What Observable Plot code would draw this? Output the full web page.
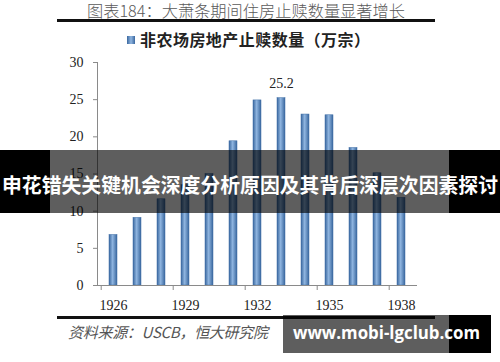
<!DOCTYPE html>
<html>
<head>
<meta charset="utf-8">
<script src="https://cdn.jsdelivr.net/npm/d3@7"></script>
<script src="https://cdn.jsdelivr.net/npm/@observablehq/plot@0.6"></script>
<style>
  html, body { margin: 0; padding: 0; background: #fff; }
  #wrap { position: relative; width: 500px; height: 362px; overflow: hidden; background: #fff; }
  #wrap > svg { position: absolute; left: 0; top: 0; }
</style>
</head>
<body>
<div id="wrap"></div>
<script>
// ---- data ----
const years = ["1926","1927","1928","1929","1930","1931","1932","1933","1934","1935","1936","1937","1938"];
const foreclosures = [6.8, 9.1, 11.6, 13.5, 15.0, 19.4, 24.9, 25.2, 23.0, 22.9, 18.5, 15.1, 11.8];
const xTickYears = ["1926","1929","1932","1935","1938"];
const yTicks = [0, 5, 10, 15, 20, 25, 30];
const labelYears = ["1933"];
const titleText = "图表184：大萧条期间住房止赎数量显著增长";
const legendText = "非农场房地产止赎数量（万宗）";
const sourceText = "资料来源：USCB，恒大研究院";
const bannerText = "申花错失关键机会深度分析原因及其背后深层次因素探讨";
const watermarkText = "www.mobi-lgclub.com";

const data = years.map((year, i) => ({year, value: foreclosures[i]}));
const labelData = data.filter(d => labelYears.includes(d.year));

const W = 500, H = 362;
const mL = 97, mR = 83, mT = 62, mB = 77;
const step = (W - mL - mR) / years.length;

const chart = Plot.plot({
  width: W, height: H,
  marginLeft: mL, marginRight: mR, marginTop: mT, marginBottom: mB,
  style: {fontFamily: "'Liberation Serif', 'Times New Roman', serif", fontSize: "14px", color: "#333", background: "#fff"},
  x: {domain: years, paddingInner: 0.66, paddingOuter: 0.33, label: null},
  y: {domain: [0, 30], label: null},
  marks: [
    Plot.barY(data, {x: "year", y: "value", fill: "url(#barGrad)", stroke: "#3f6ea6", strokeWidth: 0.5}),
    Plot.frame({anchor: "left", stroke: "#8a8a8a"}),
    Plot.axisY({ticks: yTicks, tickSize: 4, tickPadding: 10, stroke: "#8a8a8a", fill: "#222", fontSize: 14}),
    Plot.ruleY([0], {stroke: "#8a8a8a"}),
    Plot.axisX({ticks: xTickYears, tickSize: 0, tickPadding: 15, fill: "#222", fontSize: 14}),
    Plot.axisX({ticks: xTickYears, tickSize: 5, tickFormat: () => "", stroke: "#8a8a8a", dx: -step / 2}),
    Plot.text(labelData, {x: "year", y: "value", text: d => d.value.toFixed(1), dy: -15, fontSize: 14, fill: "#222"})
  ]
});

const defs = d3.select(chart).insert("defs", ":first-child");
const g = defs.append("linearGradient").attr("id", "barGrad").attr("x1", "0").attr("x2", "1").attr("y1", "0").attr("y2", "0");
g.append("stop").attr("offset", "0%").attr("stop-color", "#3a679e");
g.append("stop").attr("offset", "45%").attr("stop-color", "#8fb5e0");
g.append("stop").attr("offset", "100%").attr("stop-color", "#3a679e");

const wrap = document.getElementById("wrap");
wrap.appendChild(chart);

// ---- overlay: title, rules, legend, source, banner, watermark ----
const ov = d3.select(wrap).append("svg").attr("width", W).attr("height", H);
const cjk = "'Noto Sans CJK SC', 'Noto Sans', sans-serif";

ov.append("text").attr("x", 246).attr("y", 16.5).attr("text-anchor", "middle")
  .attr("font-family", cjk).attr("font-weight", 300).attr("font-size", 16).attr("fill", "#5a5a5a")
  .attr("textLength", 318).attr("lengthAdjust", "spacingAndGlyphs").text(titleText);
ov.append("rect").attr("x", 57).attr("y", 19).attr("width", 378).attr("height", 3).attr("fill", "#111");

const lg = ov.append("defs").append("linearGradient").attr("id", "legGrad").attr("x1", "0").attr("x2", "1");
lg.append("stop").attr("offset", "0%").attr("stop-color", "#3a679e");
lg.append("stop").attr("offset", "50%").attr("stop-color", "#8fb5e0");
lg.append("stop").attr("offset", "100%").attr("stop-color", "#3a679e");
ov.append("rect").attr("x", 127).attr("y", 36).attr("width", 8).attr("height", 8).attr("fill", "url(#legGrad)");
ov.append("text").attr("x", 140).attr("y", 46)
  .attr("font-family", cjk).attr("font-weight", 700).attr("font-size", 16).attr("fill", "#222")
  .attr("textLength", 230).text(legendText);

ov.append("rect").attr("x", 57).attr("y", 316).attr("width", 378).attr("height", 3).attr("fill", "#111");
ov.append("text").attr("x", 68).attr("y", 338)
  .attr("font-family", cjk).attr("font-style", "italic").attr("font-size", 15).attr("fill", "#555")
  .attr("textLength", 200).text(sourceText);

// banner
ov.append("rect").attr("x", 0).attr("y", 150).attr("width", 50).attr("height", 63).attr("fill", "#000");
ov.append("rect").attr("x", 50).attr("y", 150).attr("width", 399).attr("height", 63).attr("fill", "rgba(0,0,0,0.63)");
ov.append("rect").attr("x", 449).attr("y", 150).attr("width", 51).attr("height", 63).attr("fill", "#000");
ov.append("text").attr("x", 2).attr("y", 193)
  .attr("font-family", cjk).attr("font-weight", 700).attr("font-size", 20.5).attr("fill", "#fff")
  .attr("textLength", 496).attr("lengthAdjust", "spacingAndGlyphs").text(bannerText);

// watermark
ov.append("rect").attr("x", 283).attr("y", 315).attr("width", 166).attr("height", 38).attr("fill", "rgba(0,0,0,0.63)");
ov.append("rect").attr("x", 449).attr("y", 315).attr("width", 42).attr("height", 38).attr("fill", "#000");
ov.append("text").attr("x", 293).attr("y", 339)
  .attr("font-family", "'Open Sans', 'Liberation Sans', sans-serif").attr("font-weight", 700).attr("font-size", 18).attr("fill", "#fff")
  .attr("textLength", 187).attr("lengthAdjust", "spacingAndGlyphs").text(watermarkText);
</script>
</body>
</html>
